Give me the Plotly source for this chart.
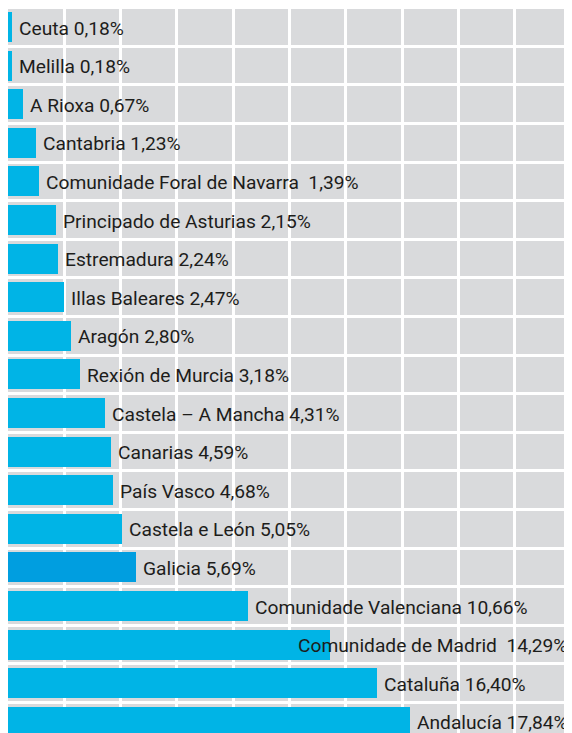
import plotly.graph_objects as go

regions = ["Ceuta", "Melilla", "A Rioxa", "Cantabria", "Comunidade Foral de Navarra",
           "Principado de Asturias", "Estremadura", "Illas Baleares", "Aragón",
           "Rexión de Murcia", "Castela – A Mancha", "Canarias", "País Vasco",
           "Castela e León", "Galicia", "Comunidade Valenciana", "Comunidade de Madrid",
           "Cataluña", "Andalucía"]
values = [0.18, 0.18, 0.67, 1.23, 1.39, 2.15, 2.24, 2.47, 2.80, 3.18, 4.31, 4.59,
          4.68, 5.05, 5.69, 10.66, 14.29, 16.40, 17.84]
separators = [" ", " ", " ", " ", "\u00a0 ", " ", " ", " ", " ", " ", " ", " ",
              " ", " ", " ", " ", "\u00a0 ", " ", " "]
highlight = "Galicia"

BLUE = "#00b4e6"
BLUE_HI = "#009ee0"
GREY = "#d9dadc"
TEXT = "#1d1d1b"
FONT = dict(family="Roboto, DejaVu Sans", size=19.2, color=TEXT)

# page body has an 8px default margin: figure starts at (8, 8)
W, H = 564, 725
MT = 1
XMAX = 25.04
px_per_unit_x = W / XMAX
row_px = 38.6
y_top = -18 / row_px
y_bot = y_top + (H - MT) / row_px

n = len(regions)
ypos = list(range(n))
labels = [f"{r}{s}{v:.2f}".replace(".", ",") + "%" for r, s, v in zip(regions, separators, values)]
colors = [BLUE_HI if r == highlight else BLUE for r in regions]

fig = go.Figure()
fig.add_trace(go.Bar(
    x=values, y=ypos, orientation="h", marker=dict(color=colors, line=dict(width=0)),
    width=0.78, hoverinfo="skip", showlegend=False,
))

CHAR_W = 9.6
for y, v, text in zip(ypos, values, labels):
    est = len(text) * CHAR_W
    start_px = v * px_per_unit_x + 6
    if start_px + est > W + 10:
        fig.add_annotation(x=XMAX, y=y, xref="x", yref="y", text=text, showarrow=False,
                           xanchor="right", yanchor="middle", xshift=-3, yshift=-1, font=FONT)
    else:
        fig.add_annotation(x=v, y=y, xref="x", yref="y", text=text, showarrow=False,
                           xanchor="left", yanchor="middle", xshift=5, yshift=-1, font=FONT)

fig.update_layout(
    width=W, height=H,
    margin=dict(l=0, r=0, t=MT, b=0, pad=0),
    paper_bgcolor="white", plot_bgcolor=GREY,
    bargap=0,
    xaxis=dict(range=[0, XMAX], dtick=2.5, tick0=0, showgrid=True, gridcolor="white",
               gridwidth=3.2, zeroline=False, showticklabels=False, ticks="",
               showline=False, fixedrange=True),
    yaxis=dict(range=[y_bot, y_top], tickmode="array",
               tickvals=[i - 0.5 for i in range(n + 1)], showgrid=True,
               gridcolor="white", gridwidth=3.2, zeroline=False, showticklabels=False,
               ticks="", showline=False, fixedrange=True),
)

fig.write_html("out.html")
